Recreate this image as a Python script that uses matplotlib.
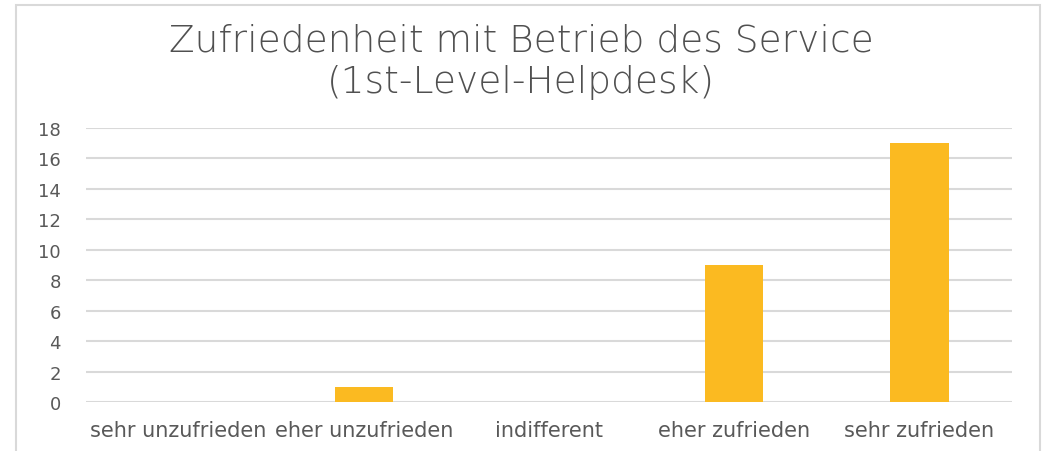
import matplotlib
matplotlib.use("Agg")
import matplotlib.pyplot as plt
from matplotlib.patches import Rectangle

categories = ["sehr unzufrieden", "eher unzufrieden", "indifferent", "eher zufrieden", "sehr zufrieden"]
values = [0, 1, 0, 9, 17]
yticks = [0, 2, 4, 6, 8, 10, 12, 14, 16, 18]
title_line1 = "Zufriedenheit mit Betrieb des Service"
title_line2 = "(1st-Level-Helpdesk)"

W, H = 1042, 452
fig = plt.figure(figsize=(W / 100, H / 100), dpi=100)
fig.patch.set_facecolor("white")

# chart border
fig.add_artist(Rectangle((16 / W, -0.05), (1040 - 16) / W, 1.05 - 6 / H,
                         transform=fig.transFigure, fill=False,
                         edgecolor="#d9d9d9", linewidth=1.5))

ax = fig.add_axes([86 / W, 1 - 403 / H, (1012 - 86) / W, (403 - 129) / H])
x = list(range(len(categories)))
ax.bar(x, values, width=0.315, color="#FBBA21", zorder=3)
ax.set_xlim(-0.5, len(categories) - 0.5)
ax.set_ylim(0, 18)
ax.set_yticks(yticks)
ax.set_yticklabels([str(v) for v in yticks])
ax.set_xticks(x)
ax.set_xticklabels(categories)
ax.grid(axis="y", color="#d9d9d9", linewidth=1.5, zorder=0)
for s in ax.spines.values():
    s.set_visible(False)
ax.tick_params(axis="both", length=0, labelcolor="#595959")
ax.tick_params(axis="y", pad=18, labelsize=13)
ax.tick_params(axis="x", pad=13, labelsize=15)
for lab in ax.get_xticklabels() + ax.get_yticklabels():
    lab.set_family("DejaVu Sans")

fig.text(0.5, 1 - 41.5 / H, title_line1, ha="center", va="center",
         fontsize=27, color="#505050", family="DejaVu Sans", fontweight="light")
fig.text(0.5, 1 - 83 / H, title_line2, ha="center", va="center",
         fontsize=27, color="#505050", family="DejaVu Sans", fontweight="light")

fig.savefig("out.png", dpi=100, facecolor="white")
